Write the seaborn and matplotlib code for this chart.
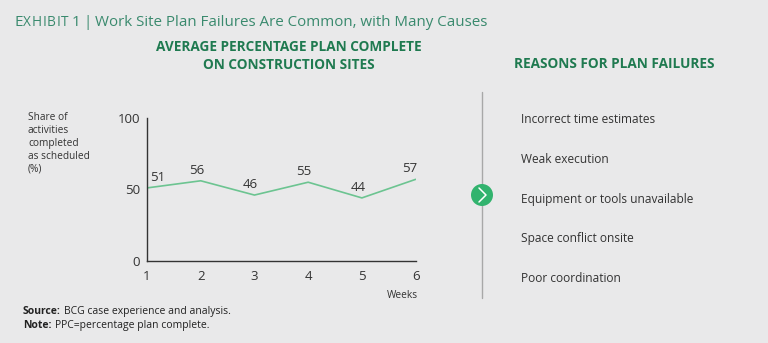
import matplotlib
matplotlib.use("Agg")
import matplotlib.pyplot as plt
import seaborn as sns
import pandas as pd
from matplotlib.patches import Ellipse

# Data
weeks = [1, 2, 3, 4, 5, 6]
ppc = [51, 56, 46, 55, 44, 57]
y_ticks = [0, 50, 100]
reasons = [
    "Incorrect time estimates",
    "Weak execution",
    "Equipment or tools unavailable",
    "Space conflict onsite",
    "Poor coordination",
]

BG = "#e9e9ea"
TEXT = "#333333"
GREEN_LINE = "#6cc491"
GREEN_HEAD = "#1f7a50"
GREEN_TITLE = "#3a8a6e"
GREEN_DOT = "#32b36e"

sns.set_theme(style="white")
plt.rcParams["font.family"] = ["Open Sans", "DejaVu Sans"]

W, H = 768, 343
fig = plt.figure(figsize=(W / 100, H / 100), dpi=100, facecolor=BG)


def fx(px):
    return px / W


def fy(py):
    return 1 - py / H


ax = fig.add_axes([fx(147), fy(260.7), fx(415.6) - fx(147), fy(118) - fy(260.7)])
ax.set_facecolor(BG)

df = pd.DataFrame({"week": weeks, "ppc": ppc})
sns.lineplot(data=df, x="week", y="ppc", ax=ax, color=GREEN_LINE, linewidth=1.2)

ax.set_xlim(1, 6)
ax.set_ylim(0, 100)
ax.set_xticks(weeks)
ax.set_yticks(y_ticks)
ax.set_xticklabels([str(w) for w in weeks])
ax.set_yticklabels([str(t) for t in y_ticks])
ax.tick_params(axis="both", length=0, labelsize=9.5, colors=TEXT)
ax.tick_params(axis="x", pad=7)
ax.tick_params(axis="y", pad=5)
ax.set_xlabel("")
ax.set_ylabel("")
for side in ["top", "right"]:
    ax.spines[side].set_visible(False)
for side in ["left", "bottom"]:
    ax.spines[side].set_color("#333333")
    ax.spines[side].set_linewidth(1.0)
ax.grid(False)

# Value labels above each point
for w, v in zip(weeks, ppc):
    dx = 8 if w == 1 else (-4 if w == 6 else -3)
    ax.annotate(str(v), (w, v), xytext=(dx, 3), textcoords="offset points",
                ha="center", va="bottom", fontsize=9.5, color=TEXT)


def chain(prev, text, gap_px, **kw):
    """Place text right after another text artist, on the same baseline."""
    return fig.add_artist(plt.Annotation(
        text, xy=(1, 0), xycoords=prev, xytext=(gap_px * 0.72, 0),
        textcoords="offset points", ha="left", va="bottom", **kw))


# Title with lightly tracked small-caps "Exhibit"
prev = fig.text(fx(14), fy(26), "E", fontsize=11, color=GREEN_TITLE, va="baseline", ha="left")
for letter in "XHIBIT":
    prev = chain(prev, letter, 0.6, fontsize=9.8, color=GREEN_TITLE)
prev = chain(prev, "1", 3, fontsize=11, color=GREEN_TITLE)
prev = chain(prev, "|", 3.5, fontsize=11, color=GREEN_TITLE)
chain(prev, "Work Site Plan Failures Are Common, with Many Causes", 3,
      fontsize=10.9, color=GREEN_TITLE)

fig.text(fx(289), fy(56), "AVERAGE PERCENTAGE PLAN COMPLETE\nON CONSTRUCTION SITES",
         fontsize=9.8, fontweight="bold", color=GREEN_HEAD, ha="center", va="center",
         linespacing=1.3)
fig.text(fx(614), fy(64), "REASONS FOR PLAN FAILURES",
         fontsize=9.8, fontweight="bold", color=GREEN_HEAD, ha="center", va="center")

# Axis captions
fig.text(fx(28), fy(112), "Share of\nactivities\ncompleted\nas scheduled\n(%)",
         fontsize=7.3, color=TEXT, ha="left", va="top", linespacing=1.25)
fig.text(fx(418), fy(296), "Weeks", fontsize=7.3, color=TEXT, ha="right", va="center")

# Divider with chevron marker
fig.add_artist(plt.Line2D([fx(482), fx(482)], [fy(92), fy(298)],
                          transform=fig.transFigure, color="#a8a8a8", linewidth=1.0))
circ = Ellipse((fx(482), fy(195)), width=22 / W, height=22 / H, transform=fig.transFigure,
               facecolor=GREEN_DOT, edgecolor="none", zorder=5)
fig.add_artist(circ)
fig.add_artist(plt.Line2D([fx(479), fx(486), fx(479)], [fy(188), fy(195), fy(202)],
                          transform=fig.transFigure, color="white", linewidth=1.1, zorder=6))

# Reasons list
for i, r in enumerate(reasons):
    fig.text(fx(521), fy(119.5 + 39.8 * i), r, fontsize=8.6, color=TEXT, ha="left", va="center")

# Footnotes: bold lead-in followed by regular text
for ypx, lead, rest, gap in [(314, "Source:", "BCG case experience and analysis.", 3.0),
                             (328, "Note:", "PPC=percentage plan complete.", 3.5)]:
    t = fig.text(fx(23), fy(ypx), lead, fontsize=7.5, fontweight="bold",
                 color="#222222", ha="left", va="baseline")
    chain(t, rest, gap, fontsize=7.5, color="#222222")

fig.savefig("out.png", dpi=100, facecolor=BG)
